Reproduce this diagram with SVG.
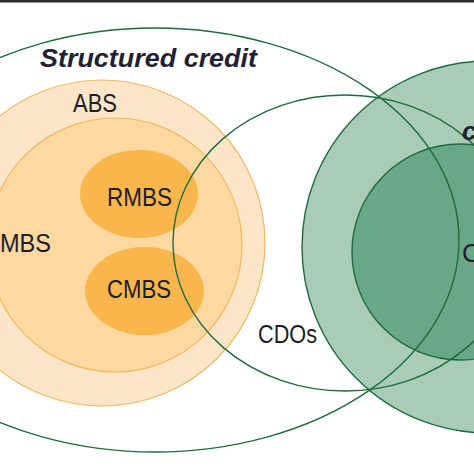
<svg xmlns="http://www.w3.org/2000/svg" width="474" height="474" viewBox="0 0 474 474">
<style>
.lbl{font-family:"Liberation Sans",Arial,sans-serif;font-size:26px;fill:#1d1d28;}
.ttl{font-family:"Liberation Sans",Arial,sans-serif;font-size:26px;font-weight:bold;font-style:italic;fill:#1f2235;}
.gline{fill:none;stroke:#1f6b40;stroke-width:1.4;}
.gfill1{fill:#a9ccb7;stroke:#1f6b40;stroke-width:1.4;}
.gfill2{fill:#68a787;stroke:#1f6b40;stroke-width:1.4;}
.oline{stroke:#f0b862;stroke-width:1.2;}
</style>
<rect x="0" y="0" width="474" height="474" fill="#ffffff"/>
<rect x="0" y="0" width="474" height="2.5" fill="#2e2e2e"/>
<g id="abs">
<circle class="oline" cx="102" cy="243" r="163" fill="#fde6c8"/>
</g>
<g id="mbs">
<circle class="oline" cx="115" cy="245" r="127" fill="#fdd8a0"/>
</g>
<g id="rmbs">
<ellipse cx="139" cy="194" rx="59" ry="44" fill="#f9b64d"/>
</g>
<g id="cmbs">
<ellipse cx="144.5" cy="291" rx="59.5" ry="44" fill="#f9b64d"/>
</g>
<g id="green-outer">
<circle class="gfill1" cx="488" cy="247" r="186"/>
</g>
<g id="green-inner">
<circle class="gfill2" cx="460" cy="252" r="108"/>
</g>
<g id="structured-credit">
<ellipse class="gline" cx="155" cy="240" rx="304" ry="212"/>
</g>
<g id="cdos">
<ellipse class="gline" cx="345" cy="243" rx="172" ry="148"/>
</g>
<g id="labels">
<text class="ttl" x="40" y="67" textLength="217" lengthAdjust="spacingAndGlyphs">Structured credit</text>
<text class="lbl" x="73" y="112" textLength="44" lengthAdjust="spacingAndGlyphs">ABS</text>
<text class="lbl" x="107" y="206" textLength="65" lengthAdjust="spacingAndGlyphs">RMBS</text>
<text class="lbl" x="107" y="298" textLength="64" lengthAdjust="spacingAndGlyphs">CMBS</text>
<text class="lbl" x="0" y="252" textLength="51" lengthAdjust="spacingAndGlyphs">MBS</text>
<text class="lbl" x="258" y="343" textLength="59" lengthAdjust="spacingAndGlyphs">CDOs</text>
<text class="lbl" x="462" y="262">C</text>
<text class="ttl" x="462" y="140">c</text>
</g>
</svg>
